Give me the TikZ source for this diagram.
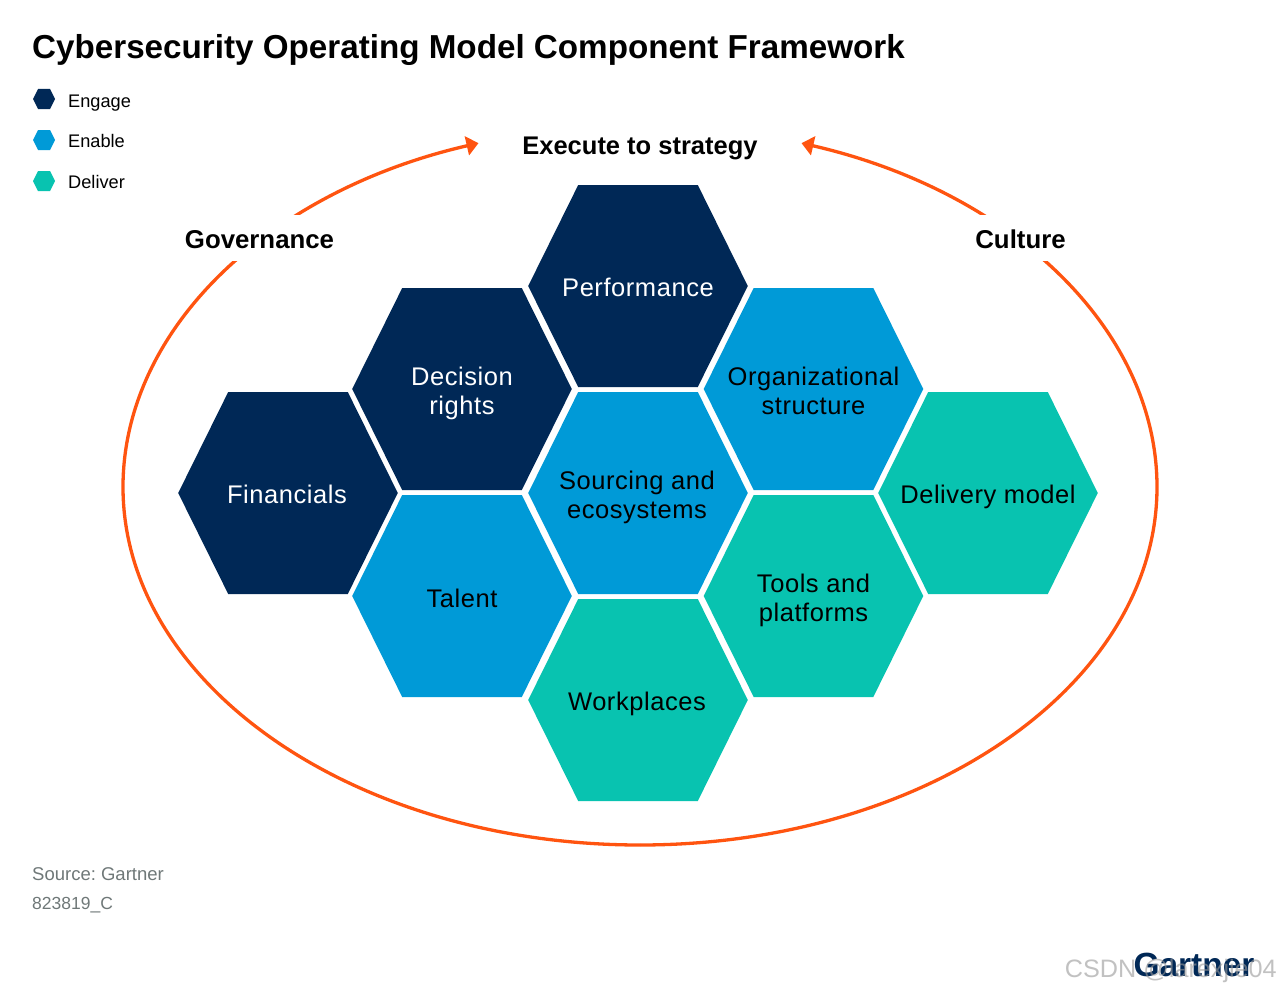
\documentclass[tikz,border=0pt]{standalone}
\usepackage{fontspec}
\setmainfont{Liberation Sans}
\usetikzlibrary{arrows.meta,calc}
\definecolor{navy}{HTML}{002856}
\definecolor{azure}{HTML}{009AD7}
\definecolor{teal2}{HTML}{08C3B0}
\definecolor{flame}{HTML}{FF5410}
\definecolor{srcgray}{HTML}{6F7878}
\newfontfamily\hexfont[LetterSpace=2.2]{Liberation Sans}
\frenchspacing
\tikzset{
  hexlabel/.style={align=center,font=\hexfont\fontsize{25.5}{29.7}\selectfont,inner sep=0pt},
  orbit/.style={draw=flame,line width=3.3pt,-{Triangle[length=12pt,width=19pt]}},
  sidelabel/.style={font=\fontsize{25.8}{28}\bfseries\selectfont,fill=white,inner sep=0pt,minimum height=46pt},
  legendlabel/.style={anchor=west,font=\fontsize{18.2}{21}\selectfont,inner sep=0pt},
  sourcelabel/.style={anchor=west,font=\fontsize{18.5}{21}\selectfont,text=srcgray,inner sep=0pt},
}
\newcommand{\hexpath}[3]{\fill[#3] ($(#1,#2)+(-109.8,0)$) -- ($(#1,#2)+(-59.8,-101)$) -- ($(#1,#2)+(59.8,-101)$) -- ($(#1,#2)+(109.8,0)$) -- ($(#1,#2)+(59.8,101)$) -- ($(#1,#2)+(-59.8,101)$) -- cycle;}
\newcommand{\minihex}[3]{\fill[#3] ($(#1,#2)+(-11,0)$) -- ($(#1,#2)+(-6,-10)$) -- ($(#1,#2)+(6,-10)$) -- ($(#1,#2)+(11,0)$) -- ($(#1,#2)+(6,10)$) -- ($(#1,#2)+(-6,10)$) -- cycle;}
\begin{document}
\begin{tikzpicture}[x=1pt,y=-1pt]
\useasboundingbox (0,0) rectangle (1280,990);
\fill[white] (0,0) rectangle (1280,990);
\node[anchor=west,inner sep=0pt,font=\fontsize{33.2}{38}\bfseries\selectfont] (title) at (32,50) {Cybersecurity Operating Model Component Framework};
\minihex{44}{99}{navy}\minihex{44}{140}{azure}\minihex{44}{181}{teal2}
\node[legendlabel] (l1) at (68,103.5) {Engage};
\node[legendlabel] (l2) at (68,141) {Enable};
\node[legendlabel] (l3) at (68,182) {Deliver};
\coordinate (bottom) at (640,845);
\draw[orbit] (bottom) arc[x radius=517,y radius=358,start angle=90,end angle=180] arc[x radius=517,y radius=362,start angle=180,end angle=251.8];
\draw[orbit] (bottom) arc[x radius=517,y radius=358,start angle=90,end angle=0] arc[x radius=517,y radius=362,start angle=0,end angle=-71.8];
\node[sidelabel] (gov) at (259.5,238) {\raisebox{-10pt}[0pt][0pt]{Governance}};
\node[sidelabel] (cul) at (1020.5,238) {\raisebox{-10pt}[0pt][0pt]{Culture}};
\node[font=\fontsize{25.5}{28}\bfseries\selectfont,inner sep=0pt] (exec) at (640,148.5) {Execute to strategy};
\hexpath{638}{286}{navy}
\hexpath{462}{389}{navy}
\hexpath{813.5}{389}{azure}
\hexpath{288}{493}{navy}
\hexpath{638}{493}{azure}
\hexpath{988}{493}{teal2}
\hexpath{462}{596}{azure}
\hexpath{813.5}{596}{teal2}
\hexpath{638}{700}{teal2}
\node[hexlabel,text=white] (h1) at (638,291) {\strut Performance};
\node[hexlabel,text=white] (h2) at (462,394) {\strut Decision\\\strut rights};
\node[hexlabel] (h3) at (813.5,394) {\strut Organizational\\\strut structure};
\node[hexlabel,text=white] (h4) at (287,498) {\strut Financials};
\node[hexlabel] (h5) at (637,498) {\strut Sourcing and\\\strut ecosystems};
\node[hexlabel] (h6) at (988,498) {\strut Delivery model};
\node[hexlabel] (h7) at (462,602) {\strut Talent};
\node[hexlabel] (h8) at (813.5,601) {\strut Tools and\\\strut platforms};
\node[hexlabel] (h9) at (637,705) {\strut Workplaces};
\node[sourcelabel] (s1) at (32,874) {Source: Gartner};
\node[sourcelabel,font=\fontsize{17.5}{21}\selectfont] (s2) at (32,905) {823819\_C};
\node[anchor=center,inner sep=0pt,text=navy,font=\fontsize{33.5}{40}\bfseries\selectfont] (logo) at (1194,965) {Gartner};
\node[anchor=east,inner sep=0pt,text=black!40,opacity=.6,font=\fontsize{25.2}{28}\selectfont] (wm) at (1277,971) {CSDN @larexjie04};
\end{tikzpicture}
\end{document}
